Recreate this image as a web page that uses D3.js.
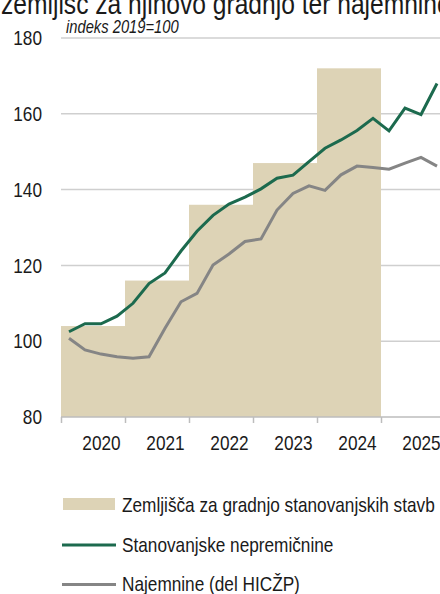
<!DOCTYPE html>
<html lang="sl">
<head>
    <meta charset="UTF-8">
    <title>Cene nepremičnin</title>
    <style>
        body { margin: 0; background: #fff; }
        svg text { font-family: "Liberation Sans", Arial, sans-serif; fill: #1a1a1a; }
    </style>
</head>
<body>
<script src="https://d3js.org/d3.v7.min.js"></script>
<script>
    // letni indeksi cen zemljišč (stolpci)
    const years = [2020, 2021, 2022, 2023, 2024];
    const landIndex = [104, 116, 136, 147, 172];

    // četrtletni podatki od 2020Q1 do 2025Q4
    const quarters = ["2020Q1", "2020Q2", "2020Q3", "2020Q4", "2021Q1", "2021Q2", "2021Q3", "2021Q4",
        "2022Q1", "2022Q2", "2022Q3", "2022Q4", "2023Q1", "2023Q2", "2023Q3", "2023Q4",
        "2024Q1", "2024Q2", "2024Q3", "2024Q4", "2025Q1", "2025Q2", "2025Q3", "2025Q4"];
    const housing = [102.5, 104.6, 104.6, 106.6, 110.0, 115.2, 118.0, 123.8, 129.0, 133.2, 136.2, 138.0,
        140.2, 143.0, 143.8, 147.4, 150.9, 153.1, 155.6, 158.8, 155.5, 161.5, 159.8, 168.0];
    const rents = [100.8, 97.7, 96.6, 95.9, 95.5, 95.9, 103.4, 110.4, 112.6, 120.1, 123.0, 126.3,
        127.0, 134.6, 139.0, 141.0, 139.8, 143.9, 146.2, 145.8, 145.4, 147.0, 148.5, 146.2];

    const yTicks = [80, 100, 120, 140, 160, 180];
    const xLabels = ["2020", "2021", "2022", "2023", "2024", "2025"];

    const W = 440, H = 594;
    const mLeft = 61, mRight = 440, mTop = 38, mBottom = 417;
    const squeeze = 0.82; // no narrow font installed, so squeeze the text

    const svg = d3.select("body").append("svg")
        .attr("width", W)
        .attr("height", H);

    const x = d3.scaleLinear().domain([2020, 2026]).range([mLeft, mLeft + 64 * 6]);
    const y = d3.scaleLinear().domain([80, 180]).range([mBottom, mTop]);

    // x value of quarter, e.g. "2021Q3" -> middle of the 3rd quarter
    function qx(q) {
        const yr = +q.slice(0, 4), n = +q.slice(5);
        return yr + (n - 0.5) / 4;
    }

    function narrow(sel) {
        sel.each(function () {
            const t = d3.select(this);
            const xx = +t.attr("x") || 0;
            t.attr("x", xx / squeeze).attr("transform", `scale(${squeeze},1)`);
        });
    }

    // title (second line, top is cut)
    svg.append("text")
        .attr("x", 1)
        .attr("y", 14)
        .attr("font-size", "30px")
        .text("zemljišč za njihovo gradnjo ter najemnine")
        .call(narrow);

    // gridlines
    svg.append("g")
        .selectAll("line")
        .data(yTicks.slice(1))
        .join("line")
        .attr("x1", mLeft)
        .attr("x2", mRight)
        .attr("y1", d => y(d))
        .attr("y2", d => y(d))
        .attr("stroke", "#cfcfcf")
        .attr("stroke-width", 1.5);

    // bars
    svg.append("g")
        .selectAll("rect")
        .data(years)
        .join("rect")
        .attr("x", d => x(d))
        .attr("width", d => x(d + 1) - x(d))
        .attr("y", (d, i) => y(landIndex[i]))
        .attr("height", (d, i) => y(80) - y(landIndex[i]))
        .attr("fill", "#ddd3b6");

    // y axis labels
    const yAxis = svg.append("g")
        .attr("transform", `translate(${mLeft},0)`)
        .call(d3.axisLeft(y).tickValues(yTicks).tickSize(0).tickPadding(19));
    yAxis.select(".domain").remove();
    yAxis.selectAll("text")
        .attr("font-size", "21px")
        .attr("font-family", null)
        .attr("fill", "#1a1a1a")
        .call(narrow);

    // x axis line with ticks at year boundaries
    const xAxis = svg.append("g")
        .attr("transform", `translate(0,${mBottom})`)
        .call(d3.axisBottom(x).tickValues([2020, 2021, 2022, 2023, 2024, 2025]).tickSize(6).tickFormat(""));
    xAxis.select(".domain")
        .attr("d", `M${mLeft},0H${mRight}`)
        .attr("stroke", "#bdbdbd")
        .attr("stroke-width", 1.5);
    xAxis.selectAll(".tick line").attr("stroke", "#bdbdbd").attr("stroke-width", 1.5);

    // x labels
    const xLab = svg.append("g")
        .attr("transform", `translate(0,${mBottom})`)
        .call(d3.axisBottom(x).tickValues(xLabels.map(d => +d + 0.625))
            .tickFormat((d, i) => xLabels[i]).tickSize(0).tickPadding(18));
    xLab.select(".domain").remove();
    xLab.selectAll("text")
        .attr("font-size", "21px")
        .attr("font-family", null)
        .attr("fill", "#1a1a1a")
        .call(narrow);

    // lines
    const line = d3.line()
        .x(d => x(qx(d[0])))
        .y(d => y(d[1]));

    svg.append("path")
        .datum(quarters.map((q, i) => [q, rents[i]]))
        .attr("fill", "none")
        .attr("stroke", "#858585")
        .attr("stroke-width", 3)
        .attr("d", line);

    svg.append("path")
        .datum(quarters.map((q, i) => [q, housing[i]]))
        .attr("fill", "none")
        .attr("stroke", "#1c6a4e")
        .attr("stroke-width", 3)
        .attr("d", line);

    // unit note
    svg.append("text")
        .attr("x", 66)
        .attr("y", 33)
        .attr("font-size", "18px")
        .attr("font-style", "italic")
        .text("indeks 2019=100")
        .call(narrow);

    // legend
    const legend = svg.append("g");
    legend.append("rect")
        .attr("x", 63).attr("y", 498)
        .attr("width", 52).attr("height", 12)
        .attr("fill", "#ddd3b6");
    legend.append("line")
        .attr("x1", 62).attr("x2", 116)
        .attr("y1", 545).attr("y2", 545)
        .attr("stroke", "#1c6a4e").attr("stroke-width", 3);
    legend.append("line")
        .attr("x1", 62).attr("x2", 116)
        .attr("y1", 584.5).attr("y2", 584.5)
        .attr("stroke", "#858585").attr("stroke-width", 3);

    const legendNames = ["Zemljišča za gradnjo stanovanjskih stavb", "Stanovanjske nepremičnine", "Najemnine (del HICŽP)"];
    const legendY = [512, 552, 591.5];
    legend.selectAll("text.lg")
        .data(legendNames)
        .join("text")
        .attr("class", "lg")
        .attr("x", 122)
        .attr("y", (d, i) => legendY[i])
        .attr("font-size", "21px")
        .text(d => d)
        .call(narrow);
</script>
</body>
</html>
